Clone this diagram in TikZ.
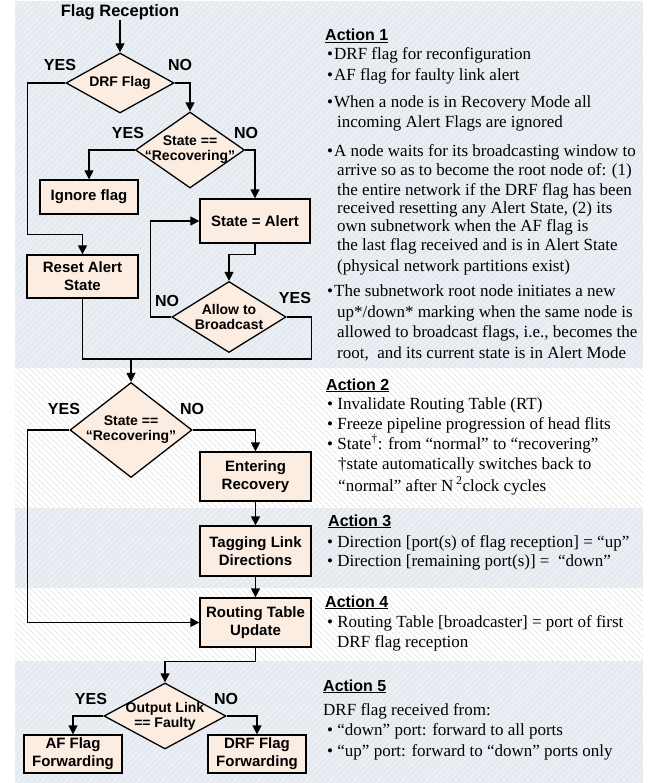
\documentclass[tikz,border=0pt]{standalone}
\usepackage{fontspec}
\setmainfont{Liberation Serif}
\setsansfont{Liberation Sans}
\usepackage{xcolor}
\usepackage{tikz}
\usetikzlibrary{shapes.geometric,arrows.meta,patterns.meta,calc}

\definecolor{boxfill}{RGB}{252,237,226}
\definecolor{bandblue}{RGB}{229,234,240}
\definecolor{hatchblue}{RGB}{243,245,248}
\definecolor{hatchgrey}{RGB}{212,212,212}

\tikzset{
  process/.style={draw, fill=boxfill, line width=1.3pt, inner sep=0pt, align=center,
    font=\sffamily\bfseries\fontsize{15}{18}\selectfont},
  decision/.style={diamond, draw, fill=boxfill, line width=1.3pt, inner sep=0pt},
  dlabel/.style={inner sep=0pt, align=center, font=\sffamily\bfseries\fontsize{14}{15}\selectfont},
  yesno/.style={inner sep=0pt, font=\sffamily\bfseries\fontsize{16}{18}\selectfont},
  flow/.style={line width=1.3pt, -{Triangle[length=9pt,width=9pt]}},
  wire/.style={line width=1.3pt},
  head/.style={anchor=base west, inner sep=0pt, font=\sffamily\bfseries\fontsize{16}{18}\selectfont},
  body/.style={anchor=base west, inner sep=0pt, font=\fontsize{17}{20}\selectfont},
}

\begin{document}
\begin{tikzpicture}[x=1pt,y=-1pt]
            \useasboundingbox (0,0) rectangle (656,783);

            %%% BANDS %%%
            \fill[bandblue, postaction={pattern={Lines[angle=45,distance=4pt,line width=0.9pt]}, pattern color=hatchblue}] (15,1) rectangle (643,368);
            \fill[white, postaction={pattern={Lines[angle=-45,distance=4pt,line width=0.5pt]}, pattern color=hatchgrey}] (15,368) rectangle (643,508);
            \fill[bandblue, postaction={pattern={Lines[angle=45,distance=4pt,line width=0.9pt]}, pattern color=hatchblue}] (15,508) rectangle (643,588);
            \fill[white, postaction={pattern={Lines[angle=-45,distance=4pt,line width=0.5pt]}, pattern color=hatchgrey}] (15,588) rectangle (643,661);
            \fill[bandblue, postaction={pattern={Lines[angle=45,distance=4pt,line width=0.9pt]}, pattern color=hatchblue}] (15,661) rectangle (643,783);

            %%% NODES %%%
            \node[inner sep=0pt, font=\sffamily\bfseries\fontsize{16.5}{18}\selectfont] (start) at (120,12) {Flag Reception};
            \node[decision, minimum width=108, minimum height=60, label={[dlabel]center:DRF Flag}] (drf) at (120,83) {};
            \node[decision, minimum width=109, minimum height=76, label={[dlabel]center:{State ==\\“Recovering”}}] (rec1) at (190,150) {};
            \node[process, minimum width=98, minimum height=34] (ignore) at (89,197) {Ignore flag};
            \node[process, minimum width=110, minimum height=44] (alert) at (255,221) {State = Alert};
            \node[process, minimum width=111, minimum height=43] (reset) at (82.5,276.5) {Reset Alert\\State};
            \node[decision, minimum width=114, minimum height=71, label={[dlabel]center:{Allow to\\Broadcast}}] (allow) at (229,317) {};
            \node[decision, minimum width=122, minimum height=95, label={[dlabel]center:{State ==\\“Recovering”}}] (rec2) at (131,430) {};
            \node[process, minimum width=111, minimum height=49] (enter) at (255.5,476.5) {Entering\\Recovery};
            \node[process, minimum width=111, minimum height=50] (tag) at (255.5,551) {Tagging Link\\Directions};
            \node[process, minimum width=111, minimum height=49] (rtu) at (255.5,622.5) {Routing Table\\Update};
            \node[decision, minimum width=122, minimum height=66, label={[dlabel]center:{Output Link\\== Faulty}}] (out) at (165,716) {};
            \node[process, minimum width=98, minimum height=38] (afwd) at (73,754) {AF Flag\\Forwarding};
            \node[process, minimum width=98, minimum height=38] (drfwd) at (257,754) {DRF Flag\\Forwarding};
            \coordinate (merge) at (131,359);

            %%% YES / NO %%%
            \node[yesno] (y1) at (60,65) {YES};
            \node[yesno] (n1) at (180,65) {NO};
            \node[yesno] (y2) at (128,133) {YES};
            \node[yesno] (n2) at (246,133) {NO};
            \node[yesno] (n3) at (167,301) {NO};
            \node[yesno] (y3) at (295,298) {YES};
            \node[yesno] (y4) at (64,409) {YES};
            \node[yesno] (n4) at (192,409) {NO};
            \node[yesno] (y5) at (91,699) {YES};
            \node[yesno] (n5) at (226,699) {NO};

            %%% CONNECTORS %%%
            \draw[flow] (start) -- (drf.north);
            \draw[flow] (drf.west) -- ++(-38,0) |- ($(reset.north)+(0,-20)$) -- (reset.north);
            \draw[flow] (drf.east) -| (rec1.north);
            \draw[flow] (rec1.west) -| (ignore.north);
            \draw[flow] (rec1.east) -| (alert.north);
            \draw[flow] (alert.south) -- ++(0,11) -| (allow.north);
            \draw[flow] (allow.west) -- ++(-21,0) |- (alert.west);
            \draw[wire] (allow.east) -- ++(25,0) |- (reset.south |- merge) -- (reset.south);
            \draw[flow] (merge) -- (rec2.north);
            \draw[flow] (rec2.west) -- ++(-42,0) |- (rtu.west);
            \draw[flow] (rec2.east) -| (enter.north);
            \draw[flow] (enter) -- (tag);
            \draw[flow] (tag) -- (rtu);
            \draw[flow] (rtu.south) -- ++(0,14) -| (out.north);
            \draw[flow] (out.west) -| (afwd.north);
            \draw[flow] (out.east) -| (drfwd.north);

            %%% ACTION 1 %%%
            \node[head] (h1) at (325,41) {\underline{Action 1}};
            \node[body] (a1) at (327,60) {\textbullet\hspace{1pt}DRF flag for reconfiguration};
            \node[body] (a2) at (327,81) {\textbullet\hspace{1pt}AF flag for faulty link alert};
            \node[body] (a3) at (327,108) {\textbullet\hspace{1pt}When a node is in Recovery Mode all};
            \node[body] (a4) at (337,128) {incoming Alert Flags are ignored};
            \node[body] (a5) at (327,157) {\textbullet\hspace{1pt}A node waits for its broadcasting window to};
            \node[body] (a6) at (337,176) {arrive so as to become the root node of: (1)};
            \node[body] (a7) at (337,196) {the entire network if the DRF flag has been};
            \node[body] (a8) at (337,214) {received resetting any Alert State, (2) its};
            \node[body] (a9) at (337,232) {own subnetwork when the AF flag is};
            \node[body] (a10) at (337,251) {the last flag received and is in Alert State};
            \node[body] (a11) at (337,271) {(physical network partitions exist)};
            \node[body] (a12) at (327,296) {\textbullet\hspace{1pt}The subnetwork root node initiates a new};
            \node[body] (a13) at (337,317) {up*/down* marking when the same node is};
            \node[body] (a14) at (337,337) {allowed to broadcast flags, i.e., becomes the};
            \node[body] (a15) at (337,358) {root,~ and its current state is in Alert Mode};

            %%% ACTION 2 %%%
            \node[head] (h2) at (326,390) {\underline{Action 2}};
            \node[body] (b1) at (327,409) {\textbullet\ Invalidate Routing Table (RT)};
            \node[body] (b2) at (327,429) {\textbullet\ Freeze pipeline progression of head flits};
            \node[body] (b3) at (327,449) {\textbullet\ State\textsuperscript{†}: from “normal” to “recovering”};
            \node[body] (b4) at (338,469) {†state automatically switches back to};
            \node[body] (b5) at (338,491) {“normal” after N\,\textsuperscript{2}clock cycles};

            %%% ACTION 3 %%%
            \node[head] (h3) at (328,526) {\underline{Action 3}};
            \node[body] (c1) at (327,547) {\textbullet\ Direction [port(s) of flag reception] = “up”};
            \node[body] (c2) at (327,566) {\textbullet\ Direction [remaining port(s)] =~ “down”};

            %%% ACTION 4 %%%
            \node[head] (h4) at (325,607) {\underline{Action 4}};
            \node[body] (d1) at (327,627) {\textbullet\ Routing Table [broadcaster] = port of first};
            \node[body] (d2) at (337,647) {DRF flag reception};

            %%% ACTION 5 %%%
            \node[head] (h5) at (323,691) {\underline{Action 5}};
            \node[body] (e1) at (323,715) {DRF flag received from:};
            \node[body] (e2) at (327,735) {\textbullet\ “down” port: forward to all ports};
            \node[body] (e3) at (327,756) {\textbullet\ “up” port: forward to “down” ports only};
\end{tikzpicture}
\end{document}
